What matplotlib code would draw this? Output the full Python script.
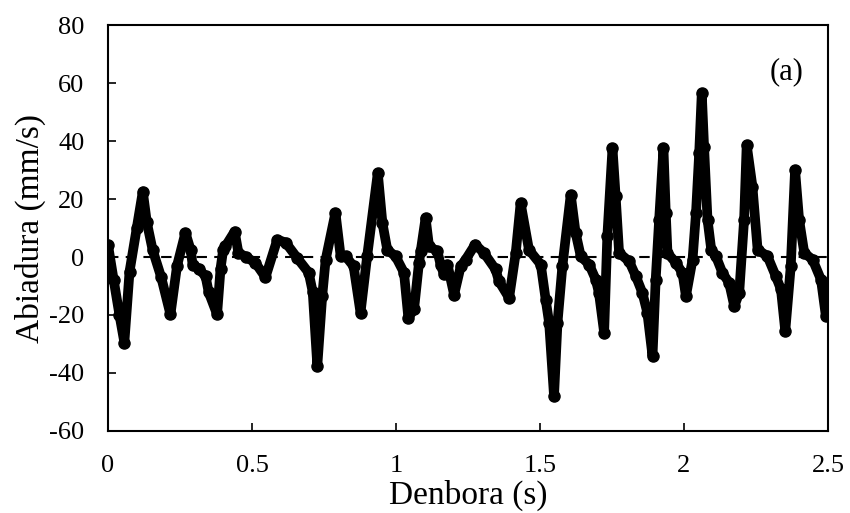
import matplotlib.pyplot as plt

plt.rcParams["font.family"] = ["Liberation Serif", "DejaVu Serif"]
plt.rcParams["axes.unicode_minus"] = False

# time (s) and velocity (mm/s)
t = [0.0, 0.02, 0.04, 0.057, 0.075, 0.1, 0.121, 0.135, 0.155, 0.185, 0.217,
     0.24, 0.269, 0.287, 0.294, 0.315, 0.339, 0.35, 0.379, 0.391,
     0.40, 0.408, 0.44, 0.453, 0.48, 0.512, 0.547, 0.588, 0.617, 0.657,
     0.697, 0.711, 0.727, 0.744, 0.756, 0.79, 0.808, 0.825, 0.853, 0.877,
     0.9, 0.937, 0.953, 0.97, 0.999, 1.028, 1.043, 1.063, 1.08, 1.086,
     1.103, 1.115, 1.144, 1.155, 1.167, 1.179, 1.202, 1.225, 1.242, 1.275,
     1.306, 1.346, 1.358, 1.393, 1.416, 1.433, 1.462, 1.503, 1.52, 1.532,
     1.549, 1.561, 1.578, 1.607, 1.624, 1.642, 1.671, 1.694, 1.705, 1.723,
     1.734, 1.752, 1.763, 1.775, 1.81, 1.833, 1.856, 1.873, 1.891, 1.902,
     1.914, 1.929, 1.937, 1.943, 1.972, 1.995, 2.007, 2.03, 2.042, 2.053,
     2.062, 2.07, 2.082, 2.095, 2.111, 2.134, 2.157, 2.175, 2.192, 2.209,
     2.218, 2.238, 2.256, 2.29, 2.319, 2.337, 2.352, 2.371, 2.386, 2.4,
     2.418, 2.447, 2.476, 2.493, 2.5]
v = [4.3, -8, -20, -29.5, -5, 10, 22.6, 12, 2.5, -7, -19.8,
     -3, 8.4, 2.5, -2.6, -4, -6.7, -12.2, -19.8, -4,
     2.5, 3.7, 8.8, 1.5, 0, -2, -7, 6, 5, -0.3,
     -5.4, -12, -37.6, -13.5, -0.9, 15.3, 0.3, 0.3, -3.2, -19.2,
     0.2, 29, 11.8, 2.5, 0.2, -5.4, -20.9, -18, -2, 2,
     13.5, 3.7, 2, -2.6, -6, -2.6, -13, -3.2, -0.9, 4.3,
     1.4, -4.3, -8.4, -14.1, 1.4, 18.6, 2.5, -2.6, -14.7, -22.7,
     -48, -22.7, -3.2, 21.5, 8.3, 0.2, -2.6, -7.8, -12.4, -26.1,
     7.1, 37.6, 20.9, 1.4, -1.5, -6.6, -12.4, -19.2, -34.2, -7.8,
     12.9, 37.6, 15.2, 1.4, -2, -5.5, -13.5, -0.9, 15.2, 35.8,
     56.5, 38.1, 12.9, 2.5, 0.3, -5.5, -8.9, -17, -12.4, 12.9,
     38.7, 24.3, 2.5, 0.3, -6.6, -11.2, -25.6, -3.2, 30.1, 12.9,
     1.4, -0.9, -7.8, -20.4, -10]

fig = plt.figure(figsize=(8.5, 5.13), dpi=100)
ax = fig.add_axes([0.127, 0.160, 0.847, 0.791])

ax.axhline(0, color="black", lw=1.5, ls=(0, (5, 3.5)), zorder=1)
ax.plot(t, v, color="black", lw=7, solid_joinstyle="round",
        solid_capstyle="round", marker="o", ms=8, zorder=2)

ax.set_xlim(0, 2.5)
ax.set_ylim(-60, 80)
ax.set_xticks([0, 0.5, 1, 1.5, 2, 2.5])
ax.set_xticklabels(["0", "0.5", "1", "1.5", "2", "2.5"])
ax.set_yticks(range(-60, 81, 20))
ax.tick_params(direction="in", length=5.5, width=1.2, labelsize=19, pad=17)
for s in ax.spines.values():
    s.set_linewidth(1.5)

ax.set_xlabel("Denbora (s)", fontsize=24, labelpad=2)
ax.set_ylabel("Abiadura (mm/s)", fontsize=24, labelpad=2)
ax.text(0.943, 0.884, "(a)", transform=ax.transAxes, fontsize=22,
        ha="center", va="center")

fig.savefig("out.png", dpi=100)
